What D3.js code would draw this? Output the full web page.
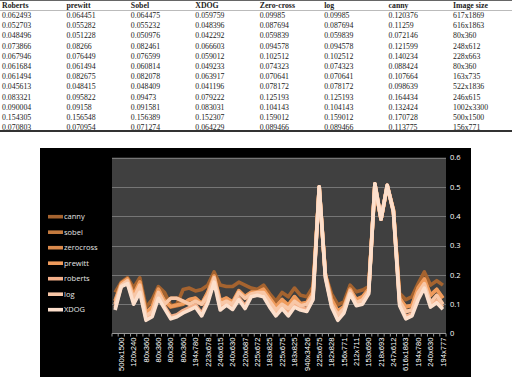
<!DOCTYPE html>
<html>
<head>
<meta charset="utf-8">
<script src="https://cdn.jsdelivr.net/npm/d3@7"></script>
<style>
  body { margin: 0; background: #fff; }
  svg { display: block; }
</style>
</head>
<body>
<div id="plot-area"></div>
<script>
// Table of edge-detector scores + line chart of the same detectors per image size

// ---- table data ----
const tableColumns = ["Roberts", "prewitt", "Sobel", "XDOG", "Zero-cross", "log", "canny", "Image size"];
const tRoberts = [0.062493, 0.052703, 0.048496, 0.073866, 0.067946, 0.061684, 0.061494, 0.045613, 0.083321, 0.090004, 0.154305, 0.070803];
const tPrewitt = [0.064451, 0.055282, 0.051228, 0.08266, 0.076449, 0.061494, 0.082675, 0.048415, 0.095822, 0.09158, 0.156548, 0.070954];
const tSobel = [0.064475, 0.055232, 0.050976, 0.082461, 0.076599, 0.060814, 0.082078, 0.048409, 0.09473, 0.091581, 0.156389, 0.071274];
const tXdog = [0.059759, 0.048396, 0.042292, 0.066603, 0.059012, 0.049233, 0.063917, 0.041196, 0.079222, 0.083031, 0.152307, 0.064229];
const tZeroCross = [0.09985, 0.087694, 0.059839, 0.094578, 0.102512, 0.074323, 0.070641, 0.078172, 0.125193, 0.104143, 0.159012, 0.089466];
const tLog = [0.09985, 0.087694, 0.059839, 0.094578, 0.102512, 0.074323, 0.070641, 0.078172, 0.125193, 0.104143, 0.159012, 0.089466];
const tCanny = [0.120376, 0.11259, 0.072146, 0.121599, 0.140234, 0.088424, 0.107664, 0.098639, 0.164434, 0.132424, 0.170728, 0.113775];
const tSize = ["617x1869", "616x1863", "80x360", "248x612", "228x663", "80x360", "163x735", "522x1836", "246x615", "1002x3300", "500x1500", "156x771"];

// ---- chart data (54 images, only every other label is printed) ----
const nImages = 54;
const shownLabels = ["500x1500", "120x240", "80x360", "80x360", "80x360", "80x360", "194x780", "223x678", "246x615",
  "240x630", "220x687", "225x672", "183x825", "225x675", "183x825", "940x3426", "225x675", "182x828", "156x771",
  "212x711", "153x690", "218x693", "247x612", "616x1863", "194x780", "240x630", "194x777"];
const yTicks = [0, 0.1, 0.2, 0.3, 0.4, 0.5, 0.6];

const canny = [0.14, 0.175, 0.19, 0.155, 0.19, 0.09, 0.115, 0.16, 0.14, 0.095, 0.1, 0.15, 0.155, 0.145, 0.15, 0.165, 0.21, 0.165,
  0.16, 0.16, 0.175, 0.165, 0.155, 0.15, 0.165, 0.135, 0.11, 0.14, 0.125, 0.155, 0.13, 0.125, 0.16, 0.5, 0.2, 0.135,
  0.098, 0.108, 0.165, 0.142, 0.148, 0.16, 0.51, 0.39, 0.505, 0.42, 0.137, 0.115, 0.126, 0.17, 0.21, 0.165, 0.18, 0.165];
const sobel = [0.11, 0.17, 0.185, 0.13, 0.175, 0.07, 0.09, 0.15, 0.11, 0.09, 0.095, 0.1, 0.115, 0.12, 0.1, 0.14, 0.195, 0.11,
  0.12, 0.105, 0.145, 0.125, 0.14, 0.14, 0.15, 0.12, 0.09, 0.115, 0.095, 0.125, 0.1, 0.105, 0.14, 0.49, 0.2, 0.115,
  0.075, 0.09, 0.15, 0.115, 0.125, 0.15, 0.5, 0.39, 0.5, 0.42, 0.12, 0.09, 0.095, 0.155, 0.185, 0.13, 0.15, 0.12];
const zerocross = [0.1, 0.165, 0.18, 0.12, 0.165, 0.06, 0.075, 0.14, 0.1, 0.12, 0.12, 0.11, 0.1, 0.11, 0.1, 0.13, 0.19, 0.1,
  0.11, 0.1, 0.14, 0.12, 0.135, 0.14, 0.14, 0.11, 0.08, 0.1, 0.085, 0.11, 0.095, 0.1, 0.13, 0.5, 0.2, 0.1,
  0.065, 0.085, 0.145, 0.105, 0.115, 0.145, 0.51, 0.39, 0.505, 0.42, 0.11, 0.075, 0.08, 0.14, 0.17, 0.105, 0.13, 0.1];
const prewitt = [0.112, 0.171, 0.186, 0.132, 0.176, 0.071, 0.092, 0.151, 0.112, 0.092, 0.097, 0.102, 0.116, 0.121, 0.101, 0.141, 0.196, 0.112,
  0.121, 0.107, 0.146, 0.126, 0.141, 0.141, 0.151, 0.121, 0.092, 0.116, 0.097, 0.126, 0.102, 0.106, 0.141, 0.49, 0.2, 0.116,
  0.077, 0.092, 0.151, 0.116, 0.126, 0.151, 0.5, 0.39, 0.5, 0.42, 0.121, 0.091, 0.096, 0.156, 0.186, 0.131, 0.151, 0.121];
const roberts = [0.088, 0.162, 0.174, 0.108, 0.148, 0.052, 0.064, 0.128, 0.092, 0.058, 0.064, 0.078, 0.088, 0.098, 0.068, 0.113, 0.182, 0.088,
  0.104, 0.09, 0.122, 0.094, 0.13, 0.134, 0.13, 0.098, 0.068, 0.092, 0.068, 0.098, 0.087, 0.083, 0.122, 0.5, 0.195, 0.097,
  0.052, 0.076, 0.14, 0.1, 0.106, 0.14, 0.51, 0.39, 0.505, 0.415, 0.102, 0.058, 0.067, 0.124, 0.16, 0.097, 0.112, 0.09];
const log = [0.1, 0.165, 0.18, 0.12, 0.165, 0.06, 0.075, 0.14, 0.1, 0.12, 0.12, 0.11, 0.1, 0.11, 0.1, 0.13, 0.19, 0.1,
  0.11, 0.1, 0.14, 0.12, 0.135, 0.14, 0.14, 0.11, 0.08, 0.1, 0.085, 0.11, 0.095, 0.1, 0.13, 0.5, 0.2, 0.1,
  0.065, 0.085, 0.145, 0.105, 0.115, 0.145, 0.51, 0.39, 0.505, 0.42, 0.11, 0.075, 0.08, 0.14, 0.17, 0.105, 0.13, 0.1];
const xdog = [0.08, 0.16, 0.17, 0.1, 0.14, 0.045, 0.057, 0.12, 0.085, 0.05, 0.057, 0.07, 0.08, 0.09, 0.06, 0.105, 0.175, 0.08,
  0.097, 0.082, 0.115, 0.085, 0.125, 0.13, 0.125, 0.09, 0.06, 0.085, 0.06, 0.09, 0.08, 0.075, 0.115, 0.5, 0.19, 0.09,
  0.045, 0.07, 0.135, 0.095, 0.1, 0.135, 0.51, 0.39, 0.505, 0.415, 0.095, 0.05, 0.06, 0.115, 0.155, 0.09, 0.105, 0.083];

const series = [
  { name: "canny", values: canny, color: "#a5632f" },
  { name: "sobel", values: sobel, color: "#c47a3e" },
  { name: "zerocross", values: zerocross, color: "#db8a4c" },
  { name: "prewitt", values: prewitt, color: "#ef9b5c" },
  { name: "roberts", values: roberts, color: "#f4b08a" },
  { name: "log", values: log, color: "#f8c7a7" },
  { name: "XDOG", values: xdog, color: "#fcdfcc" }];

const svg = d3.select("#plot-area").
append("svg").
attr("width", 516).
attr("height", 384);

// ---- table ----
const tableRows = d3.range(tSize.length).map(i =>
[tRoberts[i], tPrewitt[i], tSobel[i], tXdog[i], tZeroCross[i], tLog[i], tCanny[i], tSize[i]]);

const colX = d3.scalePoint().domain(tableColumns).range([2, 453]);
const rowY = d3.scalePoint().domain(d3.range(tableRows.length + 1)).range([5, 127.4]);

svg.append("line").
attr("x1", 0).attr("x2", 512).attr("y1", 0.5).attr("y2", 0.5).
attr("stroke", "#666");
svg.append("line").
attr("x1", 0).attr("x2", 512).attr("y1", 10.5).attr("y2", 10.5).
attr("stroke", "#bbb");
svg.append("line").
attr("x1", 0).attr("x2", 512).attr("y1", 131).attr("y2", 131).
attr("stroke", "#333").attr("stroke-width", 2);

const table = svg.append("g").
attr("font-family", "'Liberation Serif', 'Times New Roman', serif").
attr("font-size", 7.8).
attr("fill", "#222");

table.selectAll("text.head").
data(tableColumns).
enter().
append("text").
attr("class", "head").
attr("x", d => colX(d)).
attr("y", rowY(0) + 2.8).
attr("font-weight", "bold").
text(d => d);

tableRows.forEach((row, r) => {
  table.selectAll(`text.r${r}`).
  data(row).
  enter().
  append("text").
  attr("class", `r${r}`).
  attr("x", (d, c) => colX(tableColumns[c])).
  attr("y", rowY(r + 1) + 2.8).
  text(d => String(d));
});

// ---- chart ----
const pL = 112, pR = 446, pT = 157.5, pB = 333.5;

svg.append("rect").
attr("x", 40).attr("y", 148).attr("width", 431).attr("height", 229).
attr("fill", "#000");

svg.append("rect").
attr("x", pL).attr("y", pT).attr("width", pR - pL).attr("height", pB - pT).
attr("fill", "#404040");

const xScale = d3.scaleBand().domain(d3.range(nImages)).range([pL, pR]);
const yScale = d3.scaleLinear().domain([0, 0.6]).range([pB, pT]);
const cx = i => xScale(i) + xScale.bandwidth() / 2;

// gridlines
svg.append("g").
selectAll("line").
data(yTicks.filter(d => d > 0)).
enter().
append("line").
attr("x1", pL).attr("x2", pR).
attr("y1", d => Math.round(yScale(d)) + 0.5).
attr("y2", d => Math.round(yScale(d)) + 0.5).
attr("stroke", "#767676");

// right axis labels
const yAxis = d3.axisRight(yScale).
tickValues(yTicks).
tickSize(0).
tickPadding(4).
tickFormat(d3.format(".1~f"));

svg.append("g").
attr("id", "y-axis").
attr("transform", `translate(${pR} 0)`).
call(yAxis).
call(g => g.select(".domain").remove()).
call(g => g.selectAll("text").
attr("fill", "#fff").
attr("font-family", "'Open Sans', 'Liberation Sans', sans-serif").
attr("font-size", 7.5));

// category axis: tick marks between every category, label on every other one
svg.append("line").
attr("x1", pL).attr("x2", pR).attr("y1", pB).attr("y2", pB).
attr("stroke", "#999");

svg.append("g").
selectAll("line").
data(d3.range(nImages + 1)).
enter().
append("line").
attr("x1", i => pL + i * xScale.bandwidth()).
attr("x2", i => pL + i * xScale.bandwidth()).
attr("y1", pB).attr("y2", pB + 3).
attr("stroke", "#999");

const xAxis = d3.axisBottom(xScale).
tickValues(d3.range(1, nImages, 2)).
tickSize(0).
tickFormat(i => shownLabels[(i - 1) / 2]);

svg.append("g").
attr("id", "x-axis").
attr("transform", `translate(0 ${pB})`).
call(xAxis).
call(g => g.select(".domain").remove()).
call(g => g.selectAll("text").
attr("fill", "#fff").
attr("font-family", "'Liberation Sans', sans-serif").
attr("font-size", 7.6).
attr("transform", "rotate(-90)").
attr("text-anchor", "end").
attr("x", -4).
attr("y", 0).
attr("dy", "0.35em"));

// lines
const line = d3.line().
x((d, i) => cx(i)).
y(d => yScale(d));

svg.append("g").
selectAll("path").
data(series).
enter().
append("path").
attr("d", d => line(d.values)).
attr("fill", "none").
attr("stroke", d => d.color).
attr("stroke-width", 3.6).
attr("stroke-linejoin", "round");

// legend
const legend = svg.append("g").
attr("id", "legend").
attr("font-family", "'Open Sans', 'Liberation Sans', sans-serif").
attr("font-size", 7.5);

legend.selectAll("line").
data(series).
enter().
append("line").
attr("x1", 48).attr("x2", 63).
attr("y1", (d, i) => 216.7 + 15.5 * i).
attr("y2", (d, i) => 216.7 + 15.5 * i).
attr("stroke", d => d.color).
attr("stroke-width", 3.6);

legend.selectAll("text").
data(series).
enter().
append("text").
attr("x", 64).
attr("y", (d, i) => 216.7 + 15.5 * i + 2.7).
attr("fill", "#e6e6e6").
text(d => d.name);
</script>
</body>
</html>
